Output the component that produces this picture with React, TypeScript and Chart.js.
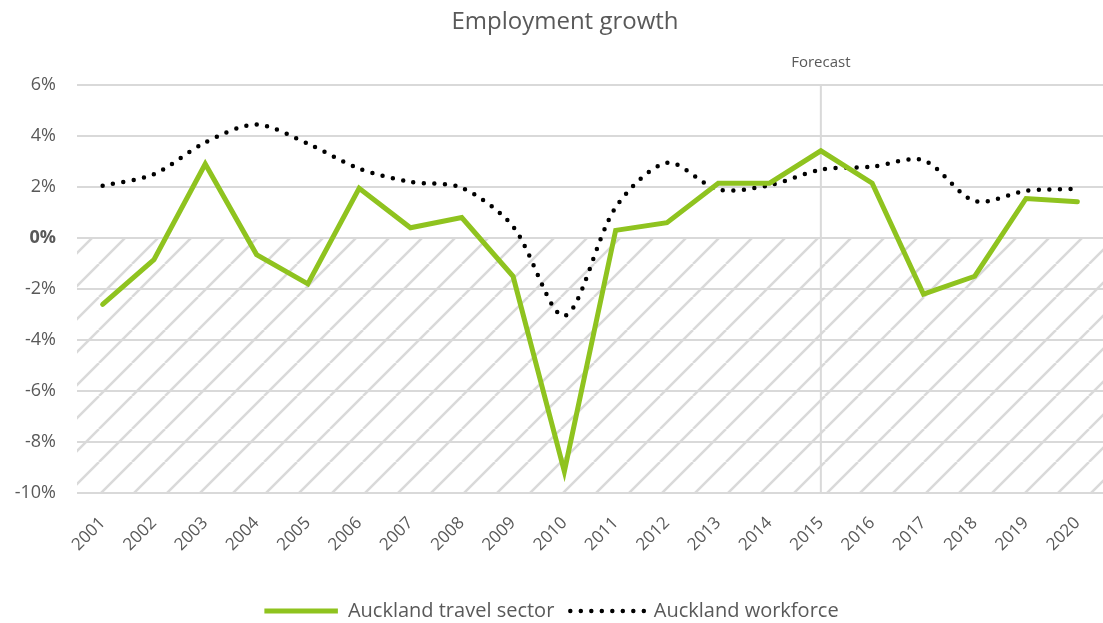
import React, { useEffect, useRef } from 'react';
import { Chart, registerables } from 'chart.js';

Chart.register(...registerables);

const years = ['2001', '2002', '2003', '2004', '2005', '2006', '2007', '2008', '2009', '2010', '2011', '2012', '2013', '2014', '2015', '2016', '2017', '2018', '2019', '2020'];
const travelSector = [-2.6, -0.85, 2.9, -0.65, -1.8, 1.95, 0.4, 0.8, -1.5, -9.15, 0.3, 0.6, 2.15, 2.15, 3.42, 2.15, -2.2, -1.5, 1.55, 1.42];
const workforce = [2.05, 2.5, 3.75, 4.45, 3.7, 2.72, 2.2, 1.97, 0.45, -3.05, 1.2, 2.95, 1.9, 2.07, 2.68, 2.8, 3.05, 1.45, 1.85, 1.93];
const yMin = -10;
const yMax = 6;
const yStep = 2;
const forecastYear = '2015';
const forecastLabel = 'Forecast';
const titleText = 'Employment growth';
const seriesNames = ['Auckland travel sector', 'Auckland workforce'];

const FONT = "'Open Sans', 'DejaVu Sans', sans-serif";
const TEXT = '#595959';
const GRID = '#d9d9d9';
const GREEN = '#8fc31f';

function makeHatch(): CanvasPattern | string {
  const s = 33;
  const c = document.createElement('canvas');
  c.width = s;
  c.height = s;
  const g = c.getContext('2d');
  if (!g) return GRID;
  g.strokeStyle = GRID;
  g.lineWidth = 2.5;
  for (const k of [-1, 0, 1]) {
    g.beginPath();
    g.moveTo(k * s, s);
    g.lineTo(k * s + s, 0);
    g.stroke();
  }
  const p = g.createPattern(c, 'repeat');
  return p || GRID;
}

const decorPlugin = {
  id: 'decor',
  beforeDatasetsDraw(chart: any) {
    const { ctx, chartArea, scales } = chart;
    const y0 = scales.y.getPixelForValue(0);
    ctx.save();
    ctx.fillStyle = makeHatch();
    ctx.fillRect(chartArea.left, y0, chartArea.right - chartArea.left, chartArea.bottom - y0);
    ctx.strokeStyle = GRID;
    ctx.lineWidth = 2;
    scales.y.ticks.forEach((t: any) => {
      const yy = Math.round(scales.y.getPixelForValue(t.value));
      ctx.beginPath();
      ctx.moveTo(chartArea.left, yy);
      ctx.lineTo(chartArea.right, yy);
      ctx.stroke();
    });
    const xf = scales.x.getPixelForValue(years.indexOf(forecastYear));
    ctx.beginPath();
    ctx.moveTo(xf, chartArea.top);
    ctx.lineTo(xf, chartArea.bottom);
    ctx.stroke();
    ctx.restore();
  },
  afterDraw(chart: any) {
    const { ctx, scales, chartArea } = chart;
    ctx.save();
    ctx.fillStyle = TEXT;
    ctx.textAlign = 'center';
    ctx.textBaseline = 'middle';
    ctx.font = `15px ${FONT}`;
    const xf = scales.x.getPixelForValue(years.indexOf(forecastYear));
    ctx.fillText(forecastLabel, xf, chartArea.top - 22);
    ctx.font = `24px ${FONT}`;
    ctx.fillText(titleText, 565, 22);
    ctx.restore();
  },
};

export default function App() {
  const ref = useRef<HTMLCanvasElement>(null);
  useEffect(() => {
    document.body.style.margin = '0';
    if (!ref.current) return;
    const chart = new Chart(ref.current, {
      type: 'line',
      data: {
        labels: years,
        datasets: [
          {
            label: seriesNames[0],
            data: travelSector,
            borderColor: GREEN,
            backgroundColor: GREEN,
            borderWidth: 5,
            pointRadius: 0,
            tension: 0,
            borderCapStyle: 'round',
            borderJoinStyle: 'miter',
          },
          {
            label: seriesNames[1],
            data: workforce,
            borderColor: '#000000',
            backgroundColor: 'rgba(0,0,0,0)',
            borderWidth: 4.5,
            borderDash: [0, 10.5],
            borderCapStyle: 'round',
            pointRadius: 0,
            tension: 0.3,
          },
        ],
      },
      options: {
        animation: false,
        responsive: false,
        maintainAspectRatio: false,
        layout: { padding: { top: 85, right: 0, left: 0, bottom: -8 } },
        plugins: {
          title: { display: false },
          tooltip: { enabled: false },
          legend: {
            position: 'bottom',
            labels: {
              color: TEXT,
              font: { family: FONT, size: 20 },
              boxWidth: 73.5,
              boxHeight: 0,
              padding: 16,
            },
          },
        },
        scales: {
          x: {
            offset: true,
            grid: { display: false },
            border: { display: false },
            ticks: {
              color: TEXT,
              font: { family: FONT, size: 17 },
              minRotation: 45,
              maxRotation: 45,
              padding: 12,
            },
            afterFit: (s: any) => {
              s.height = 92;
              s.paddingLeft = 0;
              s.paddingRight = 0;
            },
          },
          y: {
            min: yMin,
            max: yMax,
            grid: { color: GRID, lineWidth: 2, drawTicks: false },
            border: { display: false },
            ticks: {
              stepSize: yStep,
              color: TEXT,
              padding: 21,
              font: (c: any) => ({
                family: FONT,
                size: 18,
                weight: c.tick && c.tick.value === 0 ? 'bold' : 'normal',
              }),
              callback: (v: any) => `${v}%`,
            },
            afterFit: (s: any) => {
              s.width = 77;
            },
          },
        },
      },
      plugins: [decorPlugin],
    });
    return () => chart.destroy();
  }, []);
  return <canvas ref={ref} width={1103} height={623} style={{ display: 'block' }} />;
}
